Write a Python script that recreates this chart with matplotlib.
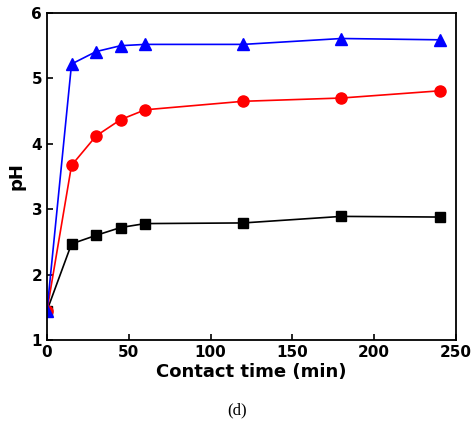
import matplotlib.pyplot as plt

time = [0, 15, 30, 45, 60, 120, 180, 240]
ph_black = [1.45, 2.47, 2.60, 2.72, 2.78, 2.79, 2.89, 2.88]
ph_red = [1.45, 3.67, 4.12, 4.37, 4.52, 4.65, 4.70, 4.81]
ph_blue = [1.45, 5.22, 5.41, 5.50, 5.52, 5.52, 5.61, 5.59]

fig = plt.figure(figsize=(4.74, 4.34), dpi=100)
ax = fig.add_axes([47/474, 1 - 340/434, (456-47)/474, (340-13)/434])

ax.plot(time, ph_black, color='black', marker='s', markersize=7, lw=1.2)
ax.plot(time, ph_red, color='red', marker='o', markersize=8, lw=1.2)
ax.plot(time, ph_blue, color='blue', marker='^', markersize=8, lw=1.2)

ax.set_xlim(0, 250)
ax.set_ylim(1, 6)
ax.set_xticks([0, 50, 100, 150, 200, 250])
ax.set_yticks([1, 2, 3, 4, 5, 6])
ax.set_xlabel('Contact time (min)', fontsize=13, fontweight='bold', labelpad=2)
ax.set_ylabel('pH', fontsize=13, fontweight='bold', labelpad=4)
for lbl in ax.get_xticklabels() + ax.get_yticklabels():
    lbl.set_fontweight('bold')
    lbl.set_fontsize(11)
ax.tick_params(direction='in', width=1.2, length=4)
for s in ax.spines.values():
    s.set_linewidth(1.3)

fig.text(0.5, 1 - 410/434, '(d)', ha='center', va='center', fontsize=12, family='Liberation Serif')

fig.savefig('out.png', dpi=100)
